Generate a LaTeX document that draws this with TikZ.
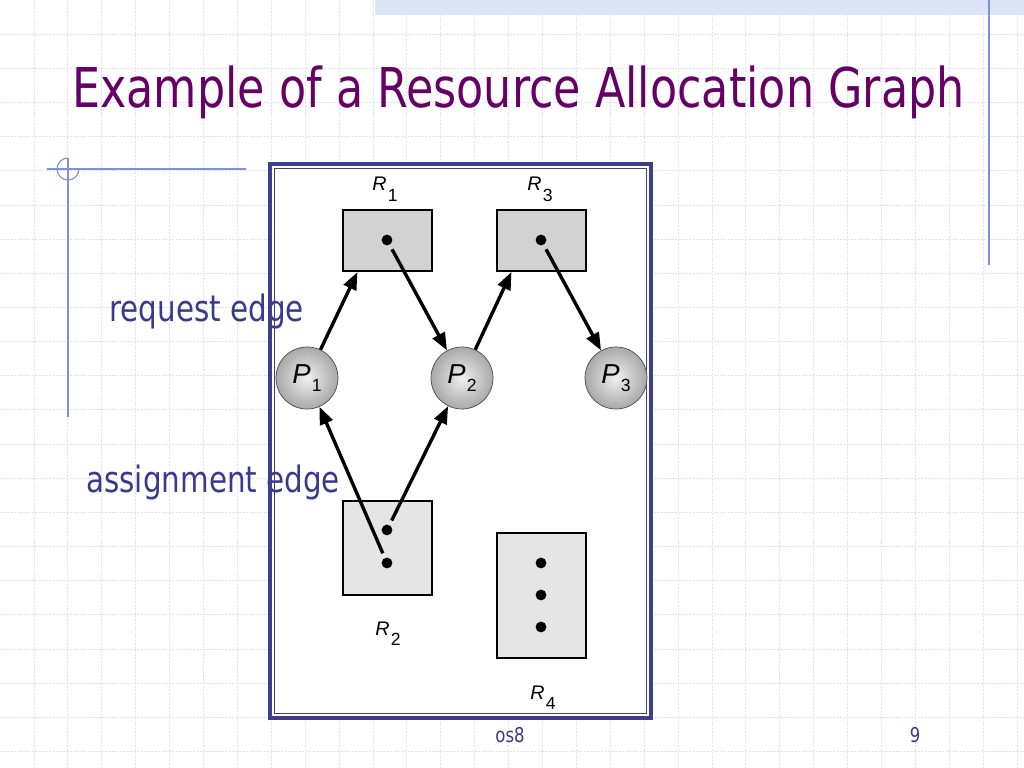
\documentclass[tikz,border=0pt]{standalone}
\usepackage{fontspec}
\usepackage{xcolor}
\usepackage{tikz}
\usetikzlibrary{shapes,arrows,positioning,calc,arrows.meta}
\newfontfamily\slidefont{DejaVu Sans}[FakeStretch=0.81]
\newfontfamily\figfont{Liberation Sans}
\definecolor{titlepurple}{RGB}{102,0,102}
\definecolor{slideblue}{RGB}{58,58,140}
\definecolor{gridblue}{RGB}{222,226,246}
\definecolor{decoblue}{RGB}{128,142,222}
\definecolor{bandblue}{RGB}{220,228,247}
\definecolor{frameblue}{RGB}{62,62,140}
\newcommand{\glab}[3][-7.6pt]{{\itshape #2}\hspace{1pt}\raisebox{#1}{\fontsize{12.5}{14}\selectfont #3}}

\begin{document}
\begin{tikzpicture}[x=0.025cm,y=-0.025cm,
    gridline/.style={gridblue, line width=0.5pt, dash pattern=on 1.5pt off 1pt},
    decoline/.style={decoblue, line width=0.8pt},
    resbox/.style={draw=black, line width=1.4pt, fill=gray!35, inner sep=0pt, minimum width=2.225cm, minimum height=1.525cm},
    proc/.style={circle, draw=gray!60!black, line width=0.5pt, shading=radial, inner color=gray!12, outer color=gray!68, inner sep=0pt, minimum size=1.55cm, font=\figfont\fontsize{19.5}{21}\selectfont},
    dot/.style={circle, fill=black, inner sep=0pt, minimum size=0.27cm, outer sep=0.13cm},
    glabel/.style={font=\figfont\fontsize{14}{16}\selectfont, anchor=base},
    arr/.style={-{Triangle[length=12.5pt,width=9.5pt]}, line width=2.4pt}]
    \useasboundingbox (0,0) rectangle (1024,768);
    % Slide background
    \fill[white] (0,0) rectangle (1024,768);
    \foreach \i in {1,...,30} \draw[gridline] (\i*33.9,0) -- (\i*33.9,768);
    \foreach \j in {1,...,22} \draw[gridline] (0,\j*34.15) -- (1024,\j*34.15);
    \fill[bandblue] (375,0) rectangle (1024,15);
    \draw[decoline] (989,0) -- (989,265);
    \draw[decoline] (47,169) -- (246,169);
    \draw[decoline] (68,158) -- (68,417);
    \draw[decoline] (68,158) arc[start angle=-90, end angle=-360, radius=11];
    % Title
    \node[anchor=base west, inner sep=0pt, text=titlepurple, font=\slidefont\fontsize{39}{44}\selectfont] (title) at (72,108) {Example of a Resource Allocation Graph};
    % Figure panel
    \fill[white] (270,164) rectangle (651,718);
    % Edge labels
    \node[anchor=base west, inner sep=0pt, text=slideblue, font=\slidefont\fontsize{25.8}{30}\selectfont] (request) at (109,321) {request edge};
    \node[anchor=base west, inner sep=0pt, text=slideblue, font=\slidefont\fontsize{25.8}{30}\selectfont] (assign) at (86,492) {assignment edge};
    \draw[frameblue, line width=2.4pt] (270,164) rectangle (651,718);
    \draw[frameblue, line width=1pt] (274.5,168.5) rectangle (646.5,713.5);
    % Resources
    \node[resbox] (r1) at (387.5,240.5) {};
    \node[resbox] (r3) at (541.5,240.5) {};
    \node[resbox, fill=gray!20, minimum height=2.35cm] (r2) at (387.5,548) {};
    \node[resbox, fill=gray!20, minimum height=3.125cm] (r4) at (541.5,595.5) {};
    \node[dot] (d1) at (387,240) {};
    \node[dot] (d3) at (541,240) {};
    \node[dot] (d2a) at (387,530) {};
    \node[dot] (d2b) at (387,563) {};
    \node[dot] (d4a) at (541,563) {};
    \node[dot] (d4b) at (541,595) {};
    \node[dot] (d4c) at (541,627) {};
    \node[glabel] (l1) at (385,191) {\glab{R}{1}};
    \node[glabel] (l3) at (540,191) {\glab{R}{3}};
    \node[glabel] (l2) at (388,635) {\glab{R}{2}};
    \node[glabel] (l4) at (543,699) {\glab{R}{4}};
    % Processes
    \node[proc] (p1) at (307,378) {\glab[-5.7pt]{P}{1}};
    \node[proc] (p2) at (462,378) {\glab[-5.7pt]{P}{2}};
    \node[proc] (p3) at (616,378) {\glab[-5.7pt]{P}{3}};
    % Request and assignment edges
    \draw[arr] (p1) -- ($(r1.south west)!0.17!(r1.south east)$);
    \draw[arr] (d1) -- (p2);
    \draw[arr] (p2) -- ($(r3.south west)!0.17!(r3.south east)$);
    \draw[arr] (d3) -- (p3);
    \draw[arr] (d2b) -- (p1);
    \draw[arr] (d2a) -- (p2);
    % Footer
    \node[anchor=base, text=slideblue, font=\slidefont\fontsize{14.5}{17}\selectfont] (foot) at (510,742) {os8};
    \node[anchor=base, text=slideblue, font=\slidefont\fontsize{14.5}{17}\selectfont] (page) at (915,742) {9};
\end{tikzpicture}
\end{document}
